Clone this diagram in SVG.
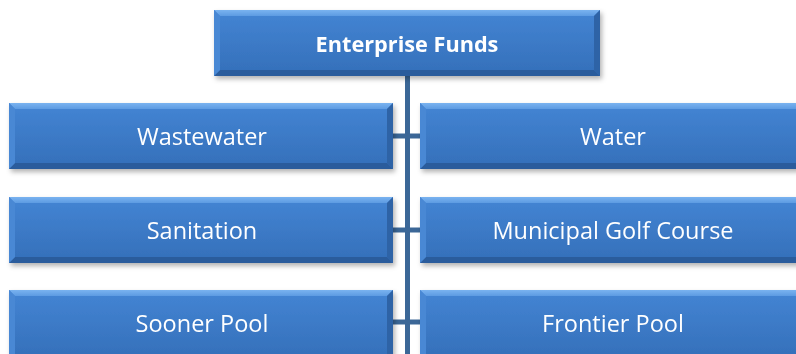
<svg xmlns="http://www.w3.org/2000/svg" width="796" height="354" viewBox="0 0 796 354">
<defs>
<linearGradient id="face" x1="0" y1="0" x2="0" y2="1">
<stop offset="0" stop-color="#4485d4"/>
<stop offset="1" stop-color="#346fb9"/>
</linearGradient>
<linearGradient id="topg" x1="0" y1="0" x2="0" y2="1">
<stop offset="0" stop-color="#7ab3f0"/>
<stop offset="1" stop-color="#5d9be2"/>
</linearGradient>
<filter id="sh" x="-5%" y="-20%" width="112%" height="150%">
<feDropShadow dx="2" dy="3" stdDeviation="2.5" flood-color="#000" flood-opacity="0.3"/>
</filter>
<style>
.face{fill:url(#face);}
.top{fill:url(#topg);}
.bot{fill:#2b5c9c;}
.lft{fill:#4a88d4;}
.rgt{fill:#2f63a6;}
.lbl{font-family:"Open Sans","Liberation Sans",sans-serif;font-size:23.5px;fill:#fff;text-anchor:middle;dominant-baseline:central;}
.b{font-weight:bold;font-size:21.7px;}
.conn{stroke:#3b6797;stroke-width:5;fill:none;}
</style>
</defs>
<g id="connectors">
<line class="conn" x1="407.5" y1="76" x2="407.5" y2="354"/>
<line class="conn" x1="393" y1="136" x2="420" y2="136"/>
<line class="conn" x1="393" y1="230" x2="420" y2="230"/>
<line class="conn" x1="393" y1="322" x2="420" y2="322"/>
</g>
<g id="enterprise-funds" filter="url(#sh)">
<rect class="face" x="214" y="10" width="386" height="66"/>
<polygon class="top" points="214,10 600,10 594,16 220,16"/>
<polygon class="bot" points="214,76 600,76 594,70 220,70"/>
<polygon class="lft" points="214,10 220,16 220,70 214,76"/>
<polygon class="rgt" points="600,10 594,16 594,70 600,76"/>
<text class="lbl b" x="407" y="43">Enterprise Funds</text>
</g>
<g id="wastewater" filter="url(#sh)">
<rect class="face" x="9" y="103" width="384" height="66"/>
<polygon class="top" points="9,103 393,103 387,109 15,109"/>
<polygon class="bot" points="9,169 393,169 387,163 15,163"/>
<polygon class="lft" points="9,103 15,109 15,163 9,169"/>
<polygon class="rgt" points="393,103 387,109 387,163 393,169"/>
<text class="lbl" x="202" y="136">Wastewater</text>
</g>
<g id="water" filter="url(#sh)">
<rect class="face" x="420" y="103" width="384" height="66"/>
<polygon class="top" points="420,103 804,103 798,109 426,109"/>
<polygon class="bot" points="420,169 804,169 798,163 426,163"/>
<polygon class="lft" points="420,103 426,109 426,163 420,169"/>
<text class="lbl" x="613" y="136">Water</text>
</g>
<g id="sanitation" filter="url(#sh)">
<rect class="face" x="9" y="197" width="384" height="66"/>
<polygon class="top" points="9,197 393,197 387,203 15,203"/>
<polygon class="bot" points="9,263 393,263 387,257 15,257"/>
<polygon class="lft" points="9,197 15,203 15,257 9,263"/>
<polygon class="rgt" points="393,197 387,203 387,257 393,263"/>
<text class="lbl" x="202" y="230">Sanitation</text>
</g>
<g id="municipal-golf-course" filter="url(#sh)">
<rect class="face" x="420" y="197" width="384" height="66"/>
<polygon class="top" points="420,197 804,197 798,203 426,203"/>
<polygon class="bot" points="420,263 804,263 798,257 426,257"/>
<polygon class="lft" points="420,197 426,203 426,257 420,263"/>
<text class="lbl" x="613" y="230">Municipal Golf Course</text>
</g>
<g id="sooner-pool" filter="url(#sh)">
<rect class="face" x="9" y="290" width="384" height="70"/>
<polygon class="top" points="9,290 393,290 387,296 15,296"/>
<polygon class="lft" points="9,290 15,296 15,360 9,360"/>
<polygon class="rgt" points="393,290 387,296 387,360 393,360"/>
<text class="lbl" x="202" y="323">Sooner Pool</text>
</g>
<g id="frontier-pool" filter="url(#sh)">
<rect class="face" x="420" y="290" width="384" height="70"/>
<polygon class="top" points="420,290 804,290 798,296 426,296"/>
<polygon class="lft" points="420,290 426,296 426,360 420,360"/>
<text class="lbl" x="613" y="323">Frontier Pool</text>
</g>
</svg>
